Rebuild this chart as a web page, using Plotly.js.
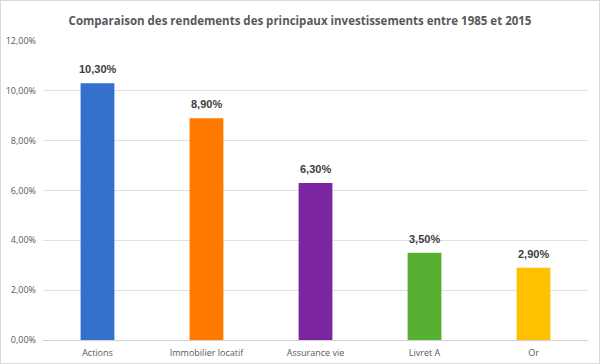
<!DOCTYPE html>
<html><head><meta charset="utf-8">
<script src="https://cdn.plot.ly/plotly-3.0.1.min.js"></script>
<style>
html,body{margin:0;padding:0;background:#fff;}
#chart{width:598px;height:362px;border:1px solid #d9d9d9;}
</style></head>
<body><div id="chart"></div>
<script>
const categories = ["Actions", "Immobilier locatif", "Assurance vie", "Livret A", "Or"];
const rendements = [0.103, 0.089, 0.063, 0.035, 0.029];
const colors = ["#3371CC", "#FF7800", "#7B25A0", "#58B033", "#FFC000"];
const yTicks = [0, 0.02, 0.04, 0.06, 0.08, 0.10, 0.12];

const fmt = v => (v * 100).toFixed(2).replace(".", ",") + "%";

const trace = {
  type: "bar",
  x: categories,
  y: rendements,
  marker: {color: colors},
  hoverinfo: "skip"
};

const labels = categories.map((c, i) => ({
  x: c, y: rendements[i], xref: "x", yref: "y",
  text: "<b>" + fmt(rendements[i]) + "</b>",
  showarrow: false, yanchor: "bottom", yshift: 6,
  font: {family: "Liberation Sans, Arial, sans-serif", size: 11, color: "#404040"}
}));

const layout = {
  width: 598, height: 362,
  margin: {l: 42, r: 11, t: 40, b: 23},
  separators: ", ",
  paper_bgcolor: "#fff", plot_bgcolor: "#fff",
  bargap: 0.69,
  showlegend: false,
  annotations: labels,
  title: {
    text: "<b>Comparaison des rendements des principaux investissements entre 1985 et 2015</b>",
    font: {family: "Open Sans, sans-serif", size: 11.5, color: "#595959"},
    x: 0.5, xanchor: "center", y: 0.945, yanchor: "middle"
  },
  xaxis: {
    showline: true, linecolor: "#d0d0d0", linewidth: 1,
    ticks: "", showgrid: false, ticklabelstandoff: 4,
    tickfont: {family: "Open Sans, sans-serif", size: 9, color: "#595959"}
  },
  yaxis: {
    range: [0, 0.12], tickvals: yTicks, tickformat: ".2%",
    showgrid: true, gridcolor: "#e0e0e0", gridwidth: 1,
    zeroline: false, showline: false, ticks: "", ticklabelstandoff: 6,
    tickfont: {family: "Open Sans, sans-serif", size: 9, color: "#595959"}
  }
};

Plotly.newPlot("chart", [trace], layout, {staticPlot: true, displayModeBar: false});
</script></body></html>
